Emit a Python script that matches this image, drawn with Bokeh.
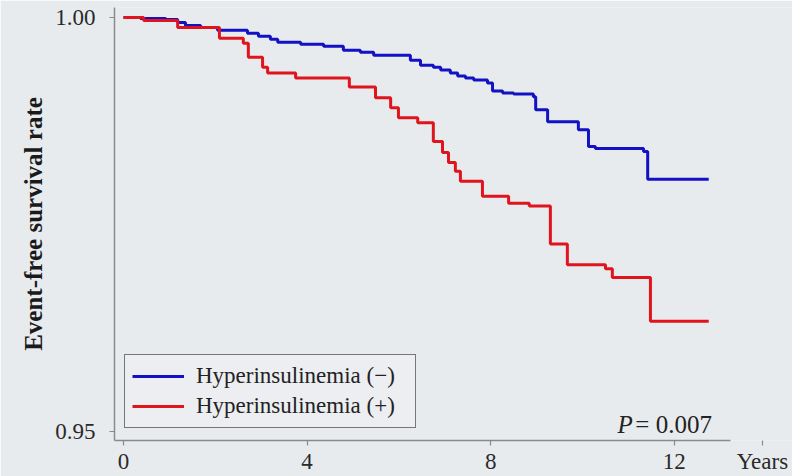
from bokeh.plotting import figure
from bokeh.models import Range1d, FixedTicker, Legend, LegendItem, Label
from bokeh.embed import file_html
from bokeh.resources import INLINE

# Kaplan-Meier style step data (time in years, event-free survival rate)
time_neg = [0.0, 0.37, 0.92, 1.18, 1.35, 1.68, 2.05, 2.70, 2.94, 3.20, 3.36, 3.86, 4.36,
            4.79, 5.16, 5.45, 6.25, 6.47, 6.75, 6.91, 7.12, 7.28, 7.45, 7.63, 7.93, 8.04,
            8.26, 8.50, 8.93, 8.98, 9.24, 9.91, 10.13, 10.28, 11.33, 11.42, 12.75]
surv_neg = [1.0, 0.99988, 0.99976, 0.99940, 0.99904, 0.99880, 0.99844, 0.99808, 0.99772,
            0.99736, 0.99700, 0.99676, 0.99652, 0.99604, 0.99580, 0.99544, 0.99484, 0.99424,
            0.99400, 0.99364, 0.99329, 0.99293, 0.99269, 0.99245, 0.99209, 0.99113, 0.99089,
            0.99077, 0.99041, 0.98885, 0.98741, 0.98645, 0.98441, 0.98417, 0.98381, 0.98046,
            0.98046]

time_pos = [0.0, 0.44, 1.18, 2.09, 2.61, 2.72, 3.03, 3.14, 3.75, 4.92, 5.49, 5.82, 5.99,
            6.41, 6.75, 6.95, 7.08, 7.23, 7.34, 7.82, 8.39, 8.84, 9.30, 9.67, 10.50, 10.65,
            11.48, 12.75]
surv_pos = [1.0, 0.99964, 0.99880, 0.99748, 0.99688, 0.99520, 0.99400, 0.99329, 0.99269,
            0.99161, 0.99029, 0.98909, 0.98789, 0.98729, 0.98501, 0.98369, 0.98249, 0.98142,
            0.98022, 0.97842, 0.97758, 0.97722, 0.97266, 0.97015, 0.96967, 0.96859, 0.96331,
            0.96331]

x_ticks = [0, 4, 8, 12]
y_ticks = [0.95, 1.00]
y_tick_labels = ["0.95", "1.00"]
series_labels = ["Hyperinsulinemia (\u2212)", "Hyperinsulinemia (+)"]
x_unit_label = "Years"
x_unit_pos = 13.92
p_value_text = "= 0.007"

BG = "#e8ebee"
BLUE = "#1212c4"
RED = "#e0141c"
AXIS = "#8a8a8a"
SERIF = "Liberation Serif"

# frame spans to the right edge of the page; the drawn x axis line stops at AXIS_END
X0, X1 = -0.196, 14.575
AXIS_END = 13.224
Y0, Y1 = 0.94892, 1.0012

p = figure(width=792, height=476, output_backend="svg", toolbar_location=None,
           x_range=Range1d(X0, X1), y_range=Range1d(Y0, Y1),
           min_border_left=114, min_border_right=0, min_border_top=7, min_border_bottom=33)
p.background_fill_color = BG
p.border_fill_color = BG
p.outline_line_color = None
p.grid.visible = False

# x axis: numeric ticks plus the unit word "Years" written past the axis end
p.xaxis.ticker = FixedTicker(ticks=x_ticks + [x_unit_pos])
p.xaxis.major_label_overrides = {x_unit_pos: x_unit_label}
p.xaxis.bounds = (X0, AXIS_END)
p.yaxis.ticker = FixedTicker(ticks=y_ticks)
p.yaxis.major_label_overrides = {t: s for t, s in zip(y_ticks, y_tick_labels)}
for ax in (p.xaxis[0], p.yaxis[0]):
    ax.axis_line_color = AXIS
    ax.axis_line_width = 1.5
    ax.major_tick_line_color = AXIS
    ax.major_tick_line_width = 1.2
    ax.major_tick_in = 0
    ax.major_tick_out = 5
    ax.minor_tick_line_color = None
    ax.major_label_text_font = SERIF
    ax.major_label_text_font_size = "23px"
    ax.major_label_text_font_style = "normal"
    ax.major_label_text_color = "#2a2a2a"
p.xaxis.major_label_standoff = 3
p.yaxis.major_label_standoff = 14
p.yaxis.axis_label = "Event-free survival rate"
p.yaxis.axis_label_text_font = SERIF
p.yaxis.axis_label_text_font_style = "bold"
p.yaxis.axis_label_text_font_size = "25px"
p.yaxis.axis_label_text_color = "#1a1a1a"
p.yaxis.axis_label_standoff = 5

r_neg = p.step(time_neg, surv_neg, mode="after", line_color=BLUE, line_width=3)
r_pos = p.step(time_pos, surv_pos, mode="after", line_color=RED, line_width=3)

legend = Legend(items=[LegendItem(label=series_labels[0], renderers=[r_neg]),
                       LegendItem(label=series_labels[1], renderers=[r_pos])],
                location=(10, 12), orientation="vertical",
                label_text_font=SERIF, label_text_font_size="23px", label_text_color="#222222",
                label_text_font_style="normal",
                glyph_width=52, glyph_height=28, label_height=28, label_width=212,
                label_standoff=12, spacing=2, padding=7, margin=0,
                border_line_color="black", border_line_width=1.5,
                background_fill_color="#eceef1", background_fill_alpha=1.0)
p.add_layout(legend)

p.add_layout(Label(x=10.76, y=0.9508, text="P", text_font=SERIF, text_font_style="italic",
                   text_font_size="25px", text_color="#222222", text_baseline="alphabetic"))
p.add_layout(Label(x=11.15, y=0.9508, text=p_value_text, text_font=SERIF,
                   text_font_style="normal",
                   text_font_size="25px", text_color="#222222", text_baseline="alphabetic"))

open("out.html", "w").write(file_html(p, INLINE))
